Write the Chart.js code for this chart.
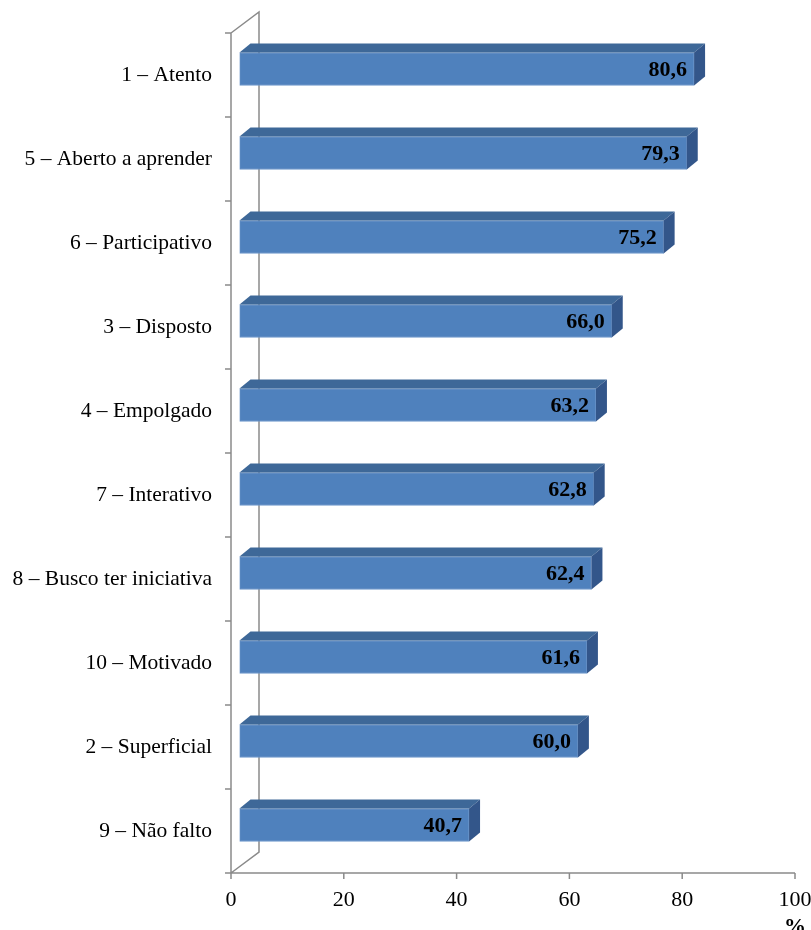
<!DOCTYPE html>
<html>
<head>
<meta charset="utf-8">
<script src="https://cdn.jsdelivr.net/npm/chart.js@4.4.0/dist/chart.umd.min.js"></script>
<style>
  html, body { margin: 0; padding: 0; background: #fff; }
  #wrap { width: 811px; height: 930px; }
</style>
</head>
<body>
<div id="wrap"><canvas id="chart"></canvas></div>
<script>
const categorias = [
  '1 – Atento',
  '5 – Aberto a aprender',
  '6 – Participativo',
  '3 – Disposto',
  '4 – Empolgado',
  '7 – Interativo',
  '8 – Busco ter iniciativa',
  '10 – Motivado',
  '2 – Superficial',
  '9 – Não falto'
]
const valores = [80.6, 79.3, 75.2, 66.0, 63.2, 62.8, 62.4, 61.6, 60.0, 40.7]
const ticksX = [0, 20, 40, 60, 80, 100]

// profundidade do "3D"
const DX = 28, DY = -21     // parede de fundo
const BX = 11, BY = -9      // espessura da barra
const OX = (DX - BX) / 2, OY = (DY - BY) / 2

const serif = '"Liberation Serif", "Times New Roman", serif'
const cinza = '#8a8a8a'

const efeito3d = {
  id: 'efeito3d',
  beforeDatasetsDraw(chart) {
    const ctx = chart.ctx
    const a = chart.chartArea
    const x = chart.scales.x
    ctx.save()
    ctx.strokeStyle = cinza
    ctx.lineWidth = 1.5
    ctx.beginPath()
    // eixo da frente e parede de fundo
    ctx.moveTo(a.left, a.top); ctx.lineTo(a.left, a.bottom)
    ctx.moveTo(a.left, a.top); ctx.lineTo(a.left + DX, a.top + DY)
    ctx.lineTo(a.left + DX, a.bottom + DY)
    ctx.lineTo(a.left, a.bottom)
    // eixo x
    ctx.moveTo(a.left - 6, a.bottom); ctx.lineTo(a.right, a.bottom)
    ticksX.forEach(t => {
      const px = x.getPixelForValue(t)
      ctx.moveTo(px, a.bottom); ctx.lineTo(px, a.bottom + 6)
    })
    // marcas das categorias
    const h = (a.bottom - a.top) / categorias.length
    for (let i = 0; i < categorias.length; i++) {
      const py = a.top + i * h
      ctx.moveTo(a.left - 6, py); ctx.lineTo(a.left, py)
    }
    ctx.stroke()
    ctx.restore()
  },
  beforeDatasetDraw(chart) {
    chart.ctx.save()
    chart.ctx.translate(OX, OY)
  },
  afterDatasetDraw(chart) {
    chart.ctx.restore()
  },
  afterDatasetsDraw(chart) {
    const ctx = chart.ctx
    const meta = chart.getDatasetMeta(0)
    ctx.save()
    ctx.translate(OX, OY)
    meta.data.forEach((bar, i) => {
      const p = bar.getProps(['x', 'y', 'base', 'height'], true)
      const top = p.y - p.height / 2, bot = p.y + p.height / 2
      // face de cima
      ctx.fillStyle = '#3e6898'
      ctx.beginPath()
      ctx.moveTo(p.base, top)
      ctx.lineTo(p.base + BX, top + BY)
      ctx.lineTo(p.x + BX, top + BY)
      ctx.lineTo(p.x, top)
      ctx.closePath()
      ctx.fill()
      // face lateral
      ctx.fillStyle = '#33568a'
      ctx.beginPath()
      ctx.moveTo(p.x, top)
      ctx.lineTo(p.x + BX, top + BY)
      ctx.lineTo(p.x + BX, bot + BY)
      ctx.lineTo(p.x, bot)
      ctx.closePath()
      ctx.fill()
      // rótulo
      ctx.fillStyle = '#000'
      ctx.font = 'bold 22px ' + serif
      ctx.textAlign = 'right'
      ctx.textBaseline = 'middle'
      ctx.fillText(valores[i].toFixed(1).replace('.', ','), p.x - 7, p.y + 1)
    })
    ctx.restore()
    // unidade
    const x = chart.scales.x
    ctx.save()
    ctx.fillStyle = '#000'
    ctx.font = 'bold 22px ' + serif
    ctx.textAlign = 'center'
    ctx.textBaseline = 'top'
    ctx.fillText('%', x.getPixelForValue(100), 916)
    ctx.restore()
  }
}

new Chart(document.getElementById('chart'),
  {
    type: 'bar',
    data: {
      labels: categorias,
      datasets: [{
        label: '%',
        data: valores,
        backgroundColor: '#4f81bd',
        borderColor: '#6f98cc',
        borderWidth: 1,
        borderSkipped: false,
        barThickness: 33
      }]
    },
    options: {
      indexAxis: 'y',
      responsive: true,
      maintainAspectRatio: false,
      animation: false,
      layout: { padding: { top: 33, right: 0, left: 0, bottom: 0 } },
      plugins: {
        legend: { display: false },
        tooltip: { enabled: false }
      },
      scales: {
        x: {
          min: 0,
          max: 100,
          afterBuildTicks: s => { s.ticks = ticksX.map(v => ({ value: v })) },
          afterFit: s => { s.height = 57; s.paddingRight = 16 },
          grid: { display: false, drawTicks: false },
          border: { display: false },
          ticks: { color: '#000', padding: 14, font: { family: serif, size: 22 } }
        },
        y: {
          afterFit: s => { s.width = 231 },
          grid: { display: false, drawTicks: false },
          border: { display: false },
          ticks: { color: '#000', padding: 19, font: { family: serif, size: 21.5 } }
        }
      }
    },
    plugins: [efeito3d]
  }
)
</script>
</body>
</html>
